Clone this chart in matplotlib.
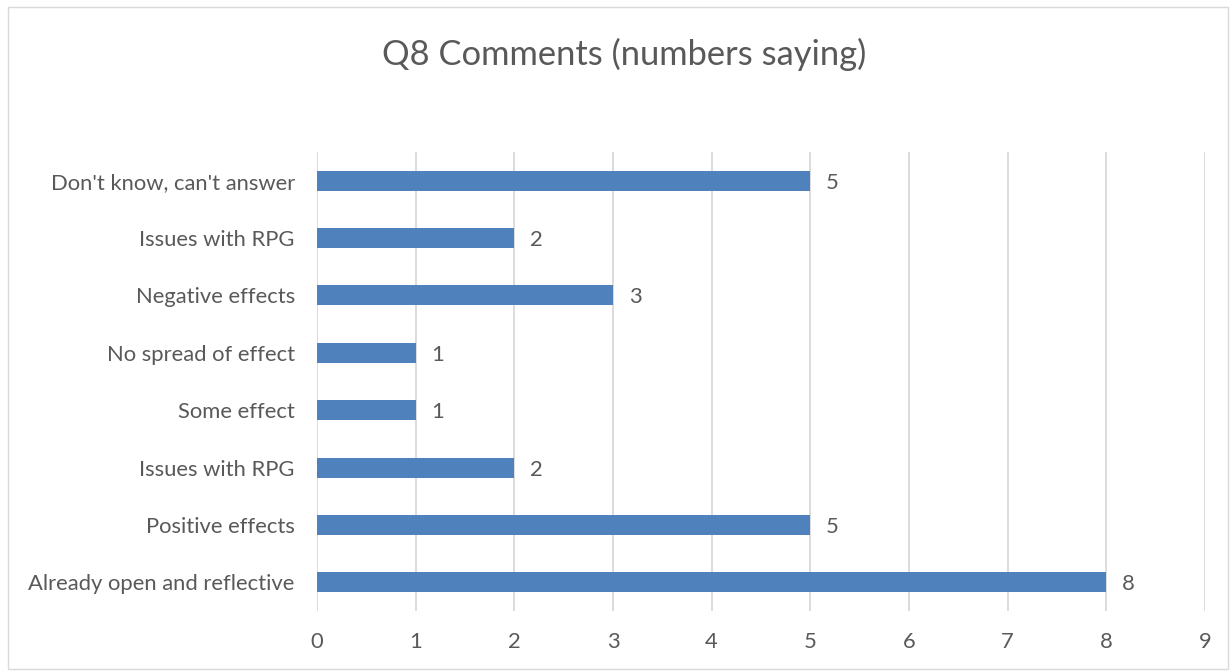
import matplotlib
matplotlib.use("Agg")
import matplotlib.pyplot as plt
from matplotlib.patches import Rectangle

categories = ["Already open and reflective", "Positive effects", "Issues with RPG",
              "Some effect", "No spread of effect", "Negative effects",
              "Issues with RPG", "Don't know, can't answer"]
values = [8, 5, 2, 1, 1, 3, 2, 5]
xticks = list(range(0, 10))

plt.rcParams['font.family'] = ['Lato', 'DejaVu Sans']
text_color = "#595959"
bar_color = "#4F81BD"

W, H = 1230, 671
fig = plt.figure(figsize=(W / 100, H / 100), dpi=100)
ax = fig.add_axes([317 / W, 1 - 611 / H, (1205 - 317) / W, (611 - 152) / H])

pos = list(range(len(categories)))
ax.barh(pos, values, height=0.35, color=bar_color, zorder=3)
for p, v in zip(pos, values):
    ax.text(v + 0.16, p, str(v), va='center_baseline', ha='left', fontsize=15.8, color=text_color)

ax.set_xlim(0, 9)
ax.set_ylim(-0.5, len(categories) - 0.5)
ax.set_xticks(xticks)
ax.set_yticks(pos)
ax.set_yticklabels(categories)
ax.tick_params(axis='both', length=0, labelsize=15.8, colors=text_color)
ax.tick_params(axis='y', pad=16)
ax.tick_params(axis='x', pad=15)
ax.grid(axis='x', color='#D9D9D9', linewidth=1.3, zorder=0)
for s in ax.spines.values():
    s.set_visible(False)

fig.text(624 / W, 1 - 54 / H, "Q8 Comments (numbers saying)", ha='center', va='center',
         fontsize=24.8, color=text_color)

fig.patches.append(Rectangle((8 / W, 1 - 669 / H), (1228 - 8) / W, (669 - 7) / H,
                             transform=fig.transFigure, fill=False,
                             edgecolor='#D9D9D9', linewidth=1))

fig.savefig("out.png", dpi=100)
